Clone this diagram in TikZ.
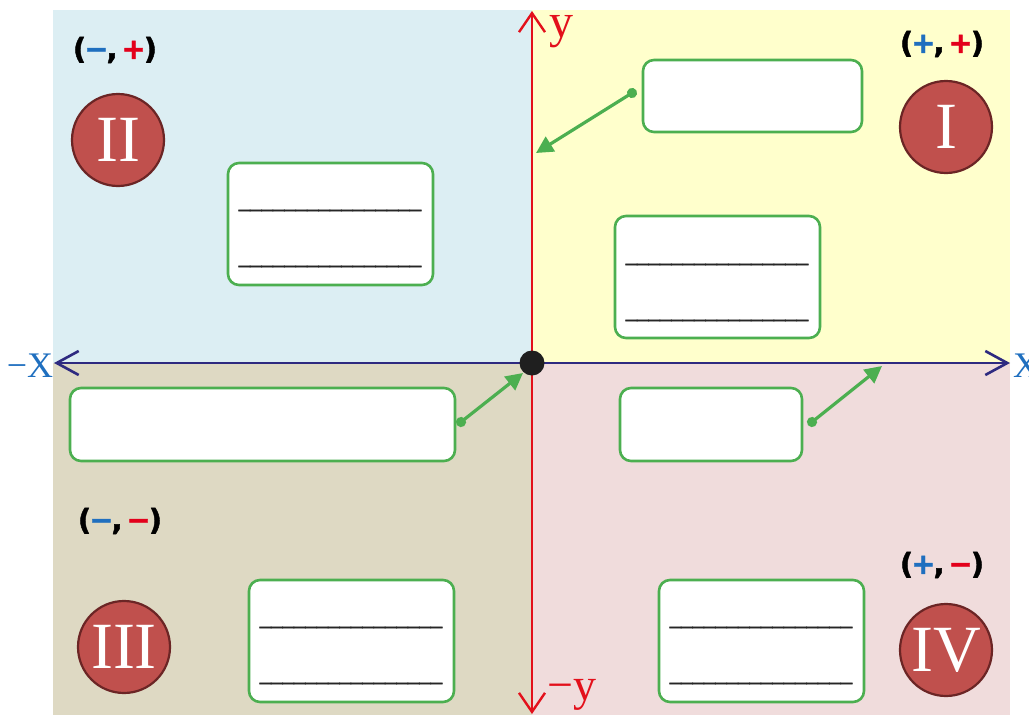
\documentclass[tikz,border=0pt]{standalone}
\usepackage{fontspec}
\setmainfont{Liberation Serif}
\newfontfamily\signfont{DejaVu Sans}[BoldFeatures={FakeBold=1.5}]
\newfontfamily\linefont{Liberation Sans}[FakeBold=2]
\usetikzlibrary{arrows.meta}
\definecolor{qblue}{HTML}{DCEEF3}
\definecolor{qyellow}{HTML}{FFFFCC}
\definecolor{qtan}{HTML}{DED9C3}
\definecolor{qpink}{HTML}{F0DCDC}
\definecolor{circfill}{HTML}{C0504D}
\definecolor{circdraw}{HTML}{6B2525}
\definecolor{boxgreen}{HTML}{4CAF50}
\definecolor{axisblue}{HTML}{2E2A80}
\definecolor{axisred}{HTML}{E3101B}
\definecolor{signblue}{HTML}{1F6FBF}
\definecolor{signred}{HTML}{E3001B}
\tikzset{
  greenbox/.style={draw=boxgreen, line width=2.6pt, fill=white, rounded corners=11pt, inner sep=0pt},
  quad/.style={circle, fill=circfill, draw=circdraw, line width=2.2pt, minimum size=92pt, inner sep=0pt, text=white, font=\fontsize{66}{66}\selectfont},
  signlbl/.style={font=\signfont\bfseries\fontsize{29}{29}\selectfont, inner sep=0pt},
  blankline/.style={font=\linefont\fontsize{20.5}{20.5}\selectfont, inner sep=0pt, anchor=base, text=black!85},
  garrow/.style={draw=boxgreen, line width=3.2pt, {Circle[length=10pt]}-{Triangle[length=17pt,width=17pt]}, shorten <=-5pt},
  xaxis/.style={draw=axisblue, line width=2.8pt, {Straight Barb[length=22pt,width=24pt,line width=2.6pt]}-{Straight Barb[length=22pt,width=24pt,line width=2.6pt]}},
  yaxis/.style={draw=axisred, line width=2.2pt, {Straight Barb[length=19pt,width=26pt,line width=2.4pt]}-{Straight Barb[length=19pt,width=26pt,line width=2.4pt]}},
}
\newcommand{\blanks}{\_\_\_\_\_\_\_\_\_\_\_\_\_\_\_\_}
\newcommand{\signpair}[2]{(\kern-2pt\textcolor{signblue}{#1}\kern-2pt,\kern4pt\textcolor{signred}{#2}\kern-2pt)}
\begin{document}
\begin{tikzpicture}[x=1pt,y=-1pt]
\useasboundingbox (0,0) rectangle (1029,715);
% quadrant backgrounds
\fill[qblue] (53,10) rectangle (532,363);
\fill[qyellow] (532,10) rectangle (1010,363);
\fill[qtan] (53,363) rectangle (532,715);
\fill[qpink] (532,363) rectangle (1010,715);
% axes
\coordinate (xl) at (54,363);
\coordinate (xr) at (1010,363);
\coordinate (yt) at (532,11);
\coordinate (yb) at (532,714);
\draw[xaxis] (xl) -- (xr);
\draw[yaxis] (yb) -- (yt);
\node[font=\fontsize{36}{36}\selectfont, text=signblue, inner sep=0pt] (lxm) at (30,366) {−X};
\node[font=\fontsize{36}{36}\selectfont, text=signblue, inner sep=0pt, anchor=west] (lxp) at (1013,366) {X};
\node[font=\fontsize{48}{48}\selectfont, text=axisred, inner sep=0pt, anchor=base west] (lyp) at (549,37) {y};
\node[font=\fontsize{46}{46}\selectfont, text=axisred, inner sep=0pt, anchor=base west] (lym) at (547,700) {−y};
% origin
\node[circle, fill=black!88, minimum size=25pt, inner sep=0pt] (o) at (532,363) {};
% quadrant circles
\node[quad] (q2) at (118,140) {II};
\node[quad] (q1) at (946,127) {I};
\node[quad] (q3) at (124,647) {III};
\node[quad] (q4) at (946,650) {IV};
% sign labels
\node[signlbl] (s2) at (115,50) {\signpair{−}{+}};
\node[signlbl] (s1) at (942,44) {\signpair{+}{+}};
\node[signlbl] (s3) at (120,521) {\signpair{−}{−}};
\node[signlbl] (s4) at (942,565) {\signpair{+}{−}};
% boxes
\node[greenbox, minimum width=219pt, minimum height=72pt] (b1) at (752.5,96) {};
\node[greenbox, minimum width=205pt, minimum height=122pt] (b2) at (330.5,224) {};
\node[greenbox, minimum width=205pt, minimum height=122pt] (b3) at (717.5,277) {};
\node[greenbox, minimum width=385pt, minimum height=73pt] (b4) at (262.5,424.5) {};
\node[greenbox, minimum width=182pt, minimum height=73pt] (b5) at (711,424.5) {};
\node[greenbox, minimum width=205pt, minimum height=122pt] (b6) at (351.5,641) {};
\node[greenbox, minimum width=205pt, minimum height=122pt] (b7) at (761.5,641) {};
% blank lines
\node[blankline] (l2a) at (330,207) {\blanks};
\node[blankline] (l2b) at (330,263) {\blanks};
\node[blankline] (l3a) at (717,261) {\blanks};
\node[blankline] (l3b) at (717,317) {\blanks};
\node[blankline] (l6a) at (351,624) {\blanks};
\node[blankline] (l6b) at (351,680) {\blanks};
\node[blankline] (l7a) at (761,624) {\blanks};
\node[blankline] (l7b) at (761,680) {\blanks};
% green arrows
\coordinate (a1s) at (632,93);
\coordinate (a1e) at (536,153);
\coordinate (a2s) at (461,422);
\coordinate (a2e) at (523,373);
\coordinate (a3s) at (812,422);
\coordinate (a3e) at (882,366);
\draw[garrow] (a1s) -- (a1e);
\draw[garrow] (a2s) -- (a2e);
\draw[garrow] (a3s) -- (a3e);
\end{tikzpicture}
\end{document}
